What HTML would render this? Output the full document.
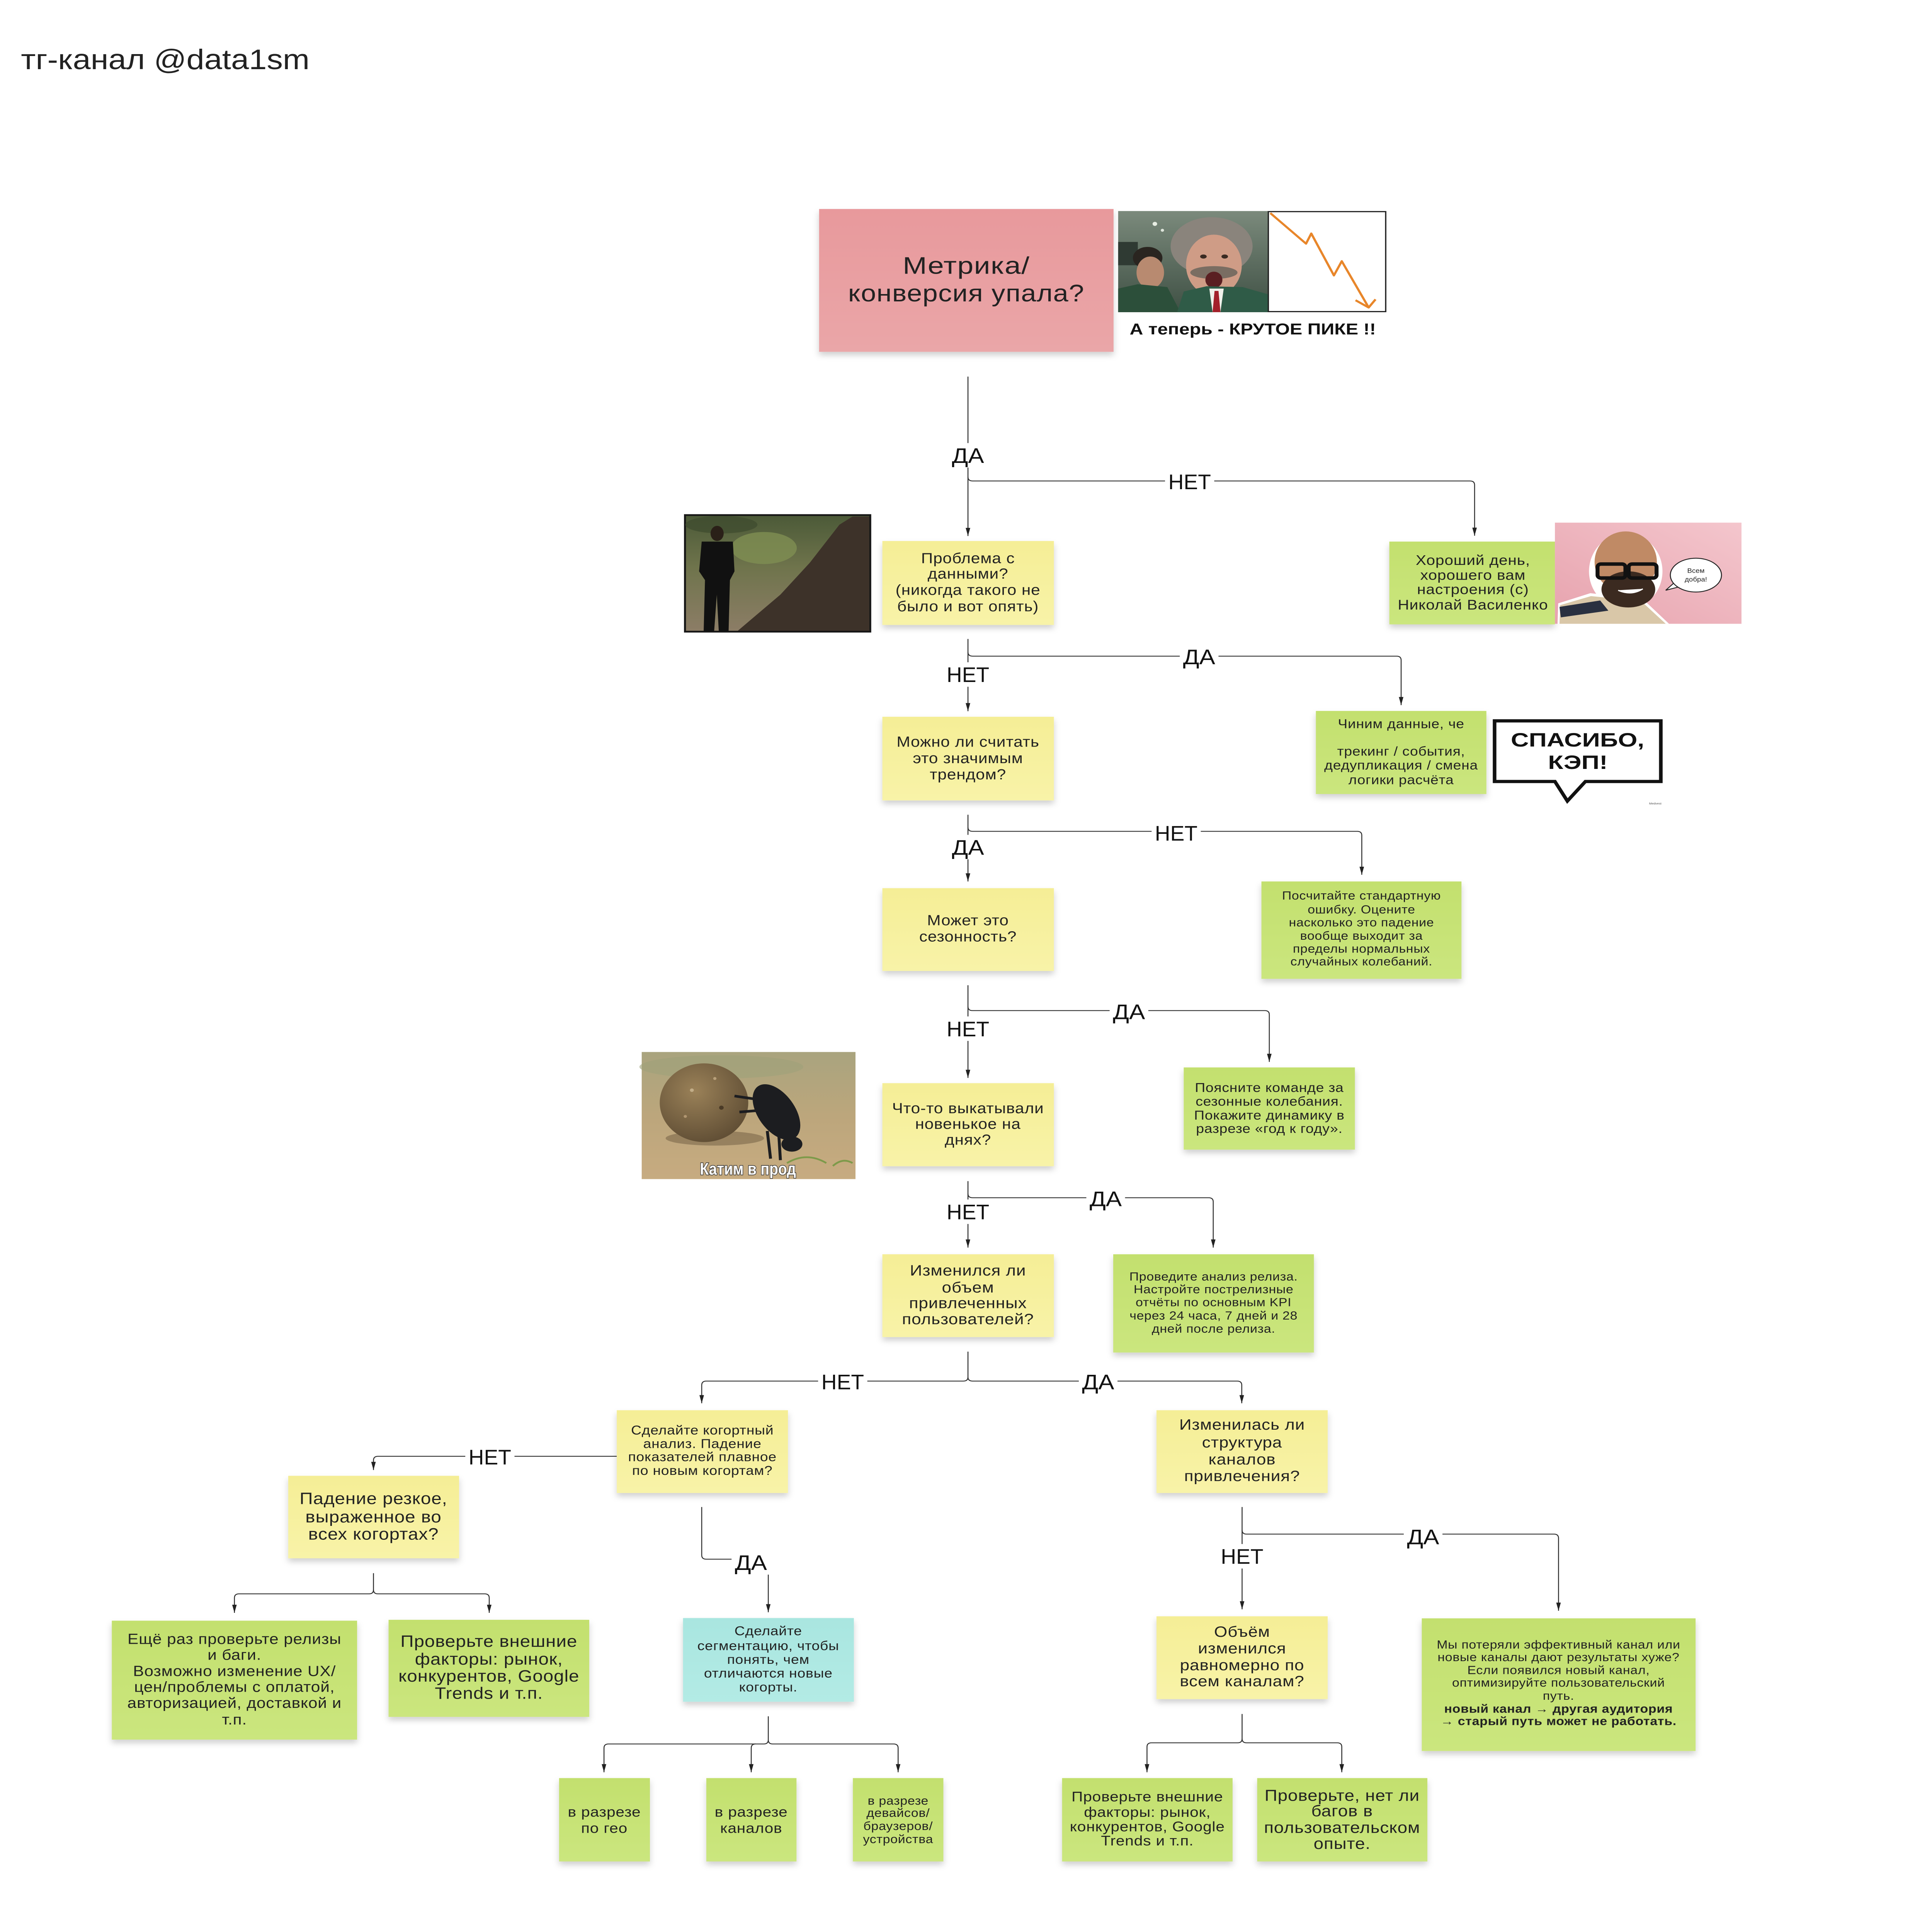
<!DOCTYPE html>
<html><head><meta charset="utf-8"><style>
html,body{margin:0;padding:0;background:#fff;width:100%;height:100%;overflow:hidden;}
svg{position:absolute;left:0;top:0;display:block;width:100vw;height:100vh;}
text{font-family:"Liberation Sans","DejaVu Sans",sans-serif;}
.n{fill:#222;text-anchor:middle;letter-spacing:0.02em;}
.lb{fill:#111;text-anchor:middle;font-size:72px;}
.ln{fill:none;stroke:#333;stroke-width:3;}
</style></head><body>
<svg viewBox="0 0 5892 6628" preserveAspectRatio="none" xmlns="http://www.w3.org/2000/svg">
<defs>
<filter id="sh" x="-10%" y="-10%" width="120%" height="135%"><feDropShadow dx="0" dy="12" stdDeviation="10" flood-color="#000" flood-opacity="0.18"/></filter>
<marker id="ar" viewBox="0 0 28 14" refX="28" refY="7" markerWidth="28" markerHeight="14" markerUnits="userSpaceOnUse" orient="auto"><path d="M0,0 L28,7 L0,14 z" fill="#222"/></marker>
<linearGradient id="gy" x1="0" y1="0" x2="0" y2="1"><stop offset="0" stop-color="#f5ee96"/><stop offset="1" stop-color="#f8f3a8"/></linearGradient>
<linearGradient id="gg" x1="0" y1="0" x2="0" y2="1"><stop offset="0" stop-color="#c3e06e"/><stop offset="1" stop-color="#cbe67e"/></linearGradient>
<linearGradient id="gt" x1="0" y1="0" x2="0" y2="1"><stop offset="0" stop-color="#a9e6e0"/><stop offset="1" stop-color="#b3ebe5"/></linearGradient>
<linearGradient id="gp" x1="0" y1="0" x2="0" y2="1"><stop offset="0" stop-color="#e8999c"/><stop offset="1" stop-color="#eaa6a8"/></linearGradient>
<linearGradient id="gpk" x1="1" y1="0" x2="0" y2="1"><stop offset="0" stop-color="#f4c6cd"/><stop offset="1" stop-color="#e7a3ae"/></linearGradient>
<linearGradient id="gcab" x1="0" y1="0" x2="0" y2="1"><stop offset="0" stop-color="#7b8a7c"/><stop offset="1" stop-color="#3f5044"/></linearGradient>
<linearGradient id="gman" x1="0" y1="0" x2="0" y2="1"><stop offset="0" stop-color="#4c5a38"/><stop offset="0.45" stop-color="#6f744c"/><stop offset="1" stop-color="#8c7d66"/></linearGradient>
<linearGradient id="gbt" x1="0" y1="0" x2="0" y2="1"><stop offset="0" stop-color="#a9a47e"/><stop offset="0.5" stop-color="#bca67c"/><stop offset="1" stop-color="#c7ab80"/></linearGradient>
<radialGradient id="gball" cx="0.4" cy="0.35" r="0.7"><stop offset="0" stop-color="#9a8158"/><stop offset="1" stop-color="#5f4d34"/></radialGradient>
</defs>

<rect x="0" y="0" width="5892" height="6628" fill="#fff"/>

<!-- Title -->
<text x="64" y="237" font-size="97" fill="#222" textLength="880" lengthAdjust="spacingAndGlyphs">тг-канал @data1sm</text>

<!-- Pink root -->
<rect x="2498" y="717" width="898" height="490" fill="url(#gp)" filter="url(#sh)"/>
<text class="n" x="2947" y="939" font-size="82" textLength="388" lengthAdjust="spacingAndGlyphs">Метрика/</text>
<text class="n" x="2947" y="1034" font-size="82" textLength="721" lengthAdjust="spacingAndGlyphs">конверсия упала?</text>

<!-- Meme 1 -->
<rect x="3410" y="724" width="458" height="347" fill="url(#gcab)"/>
<circle cx="3522" cy="768" r="7" fill="#e8eee4"/><circle cx="3545" cy="790" r="5" fill="#dfe6dc"/>
<rect x="3410" y="830" width="60" height="80" fill="#2f3a33"/>
<ellipse cx="3500" cy="885" rx="45" ry="38" fill="#2a2520"/>
<ellipse cx="3508" cy="935" rx="42" ry="55" fill="#b88a70"/>
<polygon points="3410,1071 3410,990 3470,975 3560,985 3600,1071" fill="#2c4f3a"/>
<ellipse cx="3695" cy="845" rx="125" ry="100" fill="#8a847c"/>
<ellipse cx="3702" cy="910" rx="85" ry="105" fill="#cf9c86"/>
<ellipse cx="3670" cy="880" rx="10" ry="7" fill="#3a2a22"/><ellipse cx="3735" cy="880" rx="10" ry="7" fill="#3a2a22"/>
<ellipse cx="3702" cy="935" rx="72" ry="22" fill="#7a6d62"/>
<ellipse cx="3702" cy="960" rx="26" ry="28" fill="#5a1f22"/>
<polygon points="3590,1071 3610,1000 3680,982 3790,985 3868,1010 3868,1071" fill="#2f5b47"/>
<polygon points="3688,990 3732,990 3722,1071 3698,1071" fill="#f0f0ea"/>
<polygon points="3704,998 3716,998 3722,1071 3698,1071" fill="#a3202a"/>
<rect x="3868" y="726" width="358" height="343" fill="#fff" stroke="#222" stroke-width="4"/>
<polyline points="3874,731 3983,836 3999,801 4068,945 4092,896 4173,1053" fill="none" stroke="#e8862a" stroke-width="7" stroke-linejoin="round"/>
<polyline points="4134,1030 4174,1055 4195,1027" fill="none" stroke="#e8862a" stroke-width="7" stroke-linejoin="round"/>
<text x="3445" y="1147" font-size="54" font-weight="bold" fill="#111" textLength="751" lengthAdjust="spacingAndGlyphs">А теперь - КРУТОЕ ПИКЕ !!</text>

<!-- Connectors -->
<path class="ln" d="M2952,1292 L2952,1839" marker-end="url(#ar)"/>
<path class="ln" d="M2952,1636 Q2952,1650 2966,1650 L4483,1650 Q4497,1650 4497,1664 L4497,1838" marker-end="url(#ar)"/>
<path class="ln" d="M2952,2192 L2952,2440" marker-end="url(#ar)"/>
<path class="ln" d="M2952,2237 Q2952,2251 2966,2251 L4259,2251 Q4273,2251 4273,2265 L4273,2419" marker-end="url(#ar)"/>
<path class="ln" d="M2952,2795 L2952,3024" marker-end="url(#ar)"/>
<path class="ln" d="M2952,2838 Q2952,2852 2966,2852 L4139,2852 Q4153,2852 4153,2866 L4153,3001" marker-end="url(#ar)"/>
<path class="ln" d="M2952,3380 L2952,3698" marker-end="url(#ar)"/>
<path class="ln" d="M2952,3453 Q2952,3467 2966,3467 L3857,3467 Q3871,3467 3871,3481 L3871,3643" marker-end="url(#ar)"/>
<path class="ln" d="M2952,4052 L2952,4280" marker-end="url(#ar)"/>
<path class="ln" d="M2952,4095 Q2952,4109 2966,4109 L3686,4109 Q3700,4109 3700,4123 L3700,4280" marker-end="url(#ar)"/>
<path class="ln" d="M2952,4637 L2952,4724 Q2952,4738 2938,4738 L2154,4738 Q2140,4738 2140,4752 L2140,4814" marker-end="url(#ar)"/>
<path class="ln" d="M2952,4724 Q2952,4738 2966,4738 L3773,4738 Q3787,4738 3787,4752 L3787,4814" marker-end="url(#ar)"/>
<path class="ln" d="M1881,4996 L1153,4996 Q1139,4996 1139,5010 L1139,5043" marker-end="url(#ar)"/>
<path class="ln" d="M2140,5170 L2140,5335 Q2140,5349 2154,5349 L2329,5349 Q2343,5349 2343,5363 L2343,5531" marker-end="url(#ar)"/>
<path class="ln" d="M1139,5397 L1139,5454 Q1139,5468 1125,5468 L729,5468 Q715,5468 715,5482 L715,5533" marker-end="url(#ar)"/>
<path class="ln" d="M1139,5454 Q1139,5468 1153,5468 L1478,5468 Q1492,5468 1492,5482 L1492,5533" marker-end="url(#ar)"/>
<path class="ln" d="M2343,5888 L2343,5969 Q2343,5983 2329,5983 L1856,5983 Q1842,5983 1842,5997 L1842,6080" marker-end="url(#ar)"/>
<path class="ln" d="M2343,5969 Q2343,5983 2357,5983 L2725,5983 Q2739,5983 2739,5997 L2739,6080" marker-end="url(#ar)"/>
<path class="ln" d="M2305,5983 Q2291,5983 2291,5997 L2291,6080" marker-end="url(#ar)"/>
<path class="ln" d="M3788,5170 L3788,5521" marker-end="url(#ar)"/>
<path class="ln" d="M3788,5249 Q3788,5263 3802,5263 L4739,5263 Q4753,5263 4753,5277 L4753,5526" marker-end="url(#ar)"/>
<path class="ln" d="M3788,5880 L3788,5965 Q3788,5979 3774,5979 L3512,5979 Q3498,5979 3498,5993 L3498,6080" marker-end="url(#ar)"/>
<path class="ln" d="M3788,5965 Q3788,5979 3802,5979 L4078,5979 Q4092,5979 4092,5993 L4092,6080" marker-end="url(#ar)"/>

<!-- Labels -->
<g>
<rect x="2893" y="1520" width="118" height="84" fill="#fff"/><text class="lb" x="2952" y="1588" textLength="98" lengthAdjust="spacingAndGlyphs">ДА</text>
<rect x="3553" y="1610" width="150" height="84" fill="#fff"/><text class="lb" x="3628" y="1678" textLength="130" lengthAdjust="spacingAndGlyphs">НЕТ</text>
<rect x="2877" y="2272" width="150" height="84" fill="#fff"/><text class="lb" x="2952" y="2340" textLength="130" lengthAdjust="spacingAndGlyphs">НЕТ</text>
<rect x="3598" y="2211" width="118" height="84" fill="#fff"/><text class="lb" x="3657" y="2279" textLength="98" lengthAdjust="spacingAndGlyphs">ДА</text>
<rect x="2893" y="2864" width="118" height="84" fill="#fff"/><text class="lb" x="2952" y="2932" textLength="98" lengthAdjust="spacingAndGlyphs">ДА</text>
<rect x="3512" y="2816" width="150" height="84" fill="#fff"/><text class="lb" x="3587" y="2884" textLength="130" lengthAdjust="spacingAndGlyphs">НЕТ</text>
<rect x="2877" y="3487" width="150" height="84" fill="#fff"/><text class="lb" x="2952" y="3555" textLength="130" lengthAdjust="spacingAndGlyphs">НЕТ</text>
<rect x="3384" y="3428" width="118" height="84" fill="#fff"/><text class="lb" x="3443" y="3496" textLength="98" lengthAdjust="spacingAndGlyphs">ДА</text>
<rect x="2877" y="4115" width="150" height="84" fill="#fff"/><text class="lb" x="2952" y="4183" textLength="130" lengthAdjust="spacingAndGlyphs">НЕТ</text>
<rect x="3313" y="4070" width="118" height="84" fill="#fff"/><text class="lb" x="3372" y="4138" textLength="98" lengthAdjust="spacingAndGlyphs">ДА</text>
<rect x="2495" y="4698" width="150" height="84" fill="#fff"/><text class="lb" x="2570" y="4766" textLength="130" lengthAdjust="spacingAndGlyphs">НЕТ</text>
<rect x="3290" y="4698" width="118" height="84" fill="#fff"/><text class="lb" x="3349" y="4766" textLength="98" lengthAdjust="spacingAndGlyphs">ДА</text>
<rect x="1419" y="4956" width="150" height="84" fill="#fff"/><text class="lb" x="1494" y="5024" textLength="130" lengthAdjust="spacingAndGlyphs">НЕТ</text>
<rect x="2231" y="5318" width="118" height="84" fill="#fff"/><text class="lb" x="2290" y="5386" textLength="98" lengthAdjust="spacingAndGlyphs">ДА</text>
<rect x="3713" y="5297" width="150" height="84" fill="#fff"/><text class="lb" x="3788" y="5365" textLength="130" lengthAdjust="spacingAndGlyphs">НЕТ</text>
<rect x="4281" y="5230" width="118" height="84" fill="#fff"/><text class="lb" x="4340" y="5298" textLength="98" lengthAdjust="spacingAndGlyphs">ДА</text>
</g>

<!-- Man image -->
<rect x="2086" y="1764" width="571" height="406" fill="#161616"/>
<rect x="2092" y="1770" width="559" height="394" fill="url(#gman)"/>
<ellipse cx="2330" cy="1880" rx="100" ry="55" fill="#7f8e52" opacity="0.8"/>
<ellipse cx="2200" cy="1800" rx="110" ry="30" fill="#3d4a2e" opacity="0.7"/>
<polygon points="2250,2164 2380,2040 2470,1930 2560,1800 2600,1772 2651,1772 2651,2164" fill="#3d3229"/>
<ellipse cx="2187" cy="1830" rx="20" ry="26" fill="#2a2018"/>
<polygon points="2140,1858 2235,1858 2240,1960 2226,1990 2222,2164 2192,2164 2186,2040 2178,2164 2146,2164 2150,1990 2132,1960" fill="#111"/>

<!-- Проблема -->
<rect x="2691" y="1856" width="523" height="288" fill="url(#gy)" filter="url(#sh)"/>
<text class="n" font-size="50"><tspan x="2952" y="1932">Проблема с</tspan><tspan x="2952" y="1985">данными?</tspan><tspan x="2952" y="2041">(никогда такого не</tspan><tspan x="2952" y="2097">было и вот опять)</tspan></text>

<!-- Хороший -->
<rect x="4237" y="1858" width="505" height="284" fill="url(#gg)" filter="url(#sh)"/>
<text class="n" font-size="48"><tspan x="4492" y="1938">Хороший день,</tspan><tspan x="4492" y="1989">хорошего вам</tspan><tspan x="4492" y="2038">настроения (с)</tspan><tspan x="4492" y="2091">Николай Василенко</tspan></text>

<!-- Bald image -->
<rect x="4742" y="1793" width="569" height="347" fill="url(#gpk)"/>
<ellipse cx="4958" cy="1960" rx="112" ry="130" fill="#fff"/>
<polygon points="4750,2140 4752,2070 4850,2035 5010,2055 5090,2140" fill="#fff"/>
<polygon points="4756,2140 4758,2076 4852,2045 5005,2062 5080,2140" fill="#d9c7a8"/>
<polygon points="4756,2082 4880,2060 4905,2095 4760,2118" fill="#2a3040"/>
<ellipse cx="4958" cy="1928" rx="95" ry="105" fill="#c08a65"/>
<ellipse cx="4966" cy="2022" rx="82" ry="62" fill="#3b2a20"/>
<rect x="4872" y="1935" width="85" height="48" rx="10" fill="none" stroke="#111" stroke-width="12"/>
<rect x="4967" y="1935" width="85" height="48" rx="10" fill="none" stroke="#111" stroke-width="12"/>
<path d="M4935,2025 Q4975,2045 5010,2020" fill="#fff" stroke="#fff" stroke-width="4"/>
<path d="M5110,1995 L5080,2025 L5125,2012 Z" fill="#fff" stroke="#222" stroke-width="3"/>
<ellipse cx="5172" cy="1973" rx="78" ry="58" fill="#fff" stroke="#222" stroke-width="3"/>
<text x="5172" y="1965" font-size="22" fill="#222" text-anchor="middle">Всем</text>
<text x="5172" y="1995" font-size="22" fill="#222" text-anchor="middle">добра!</text>

<!-- Чиним -->
<rect x="4013" y="2439" width="520" height="285" fill="url(#gg)" filter="url(#sh)"/>
<text class="n" font-size="44"><tspan x="4273" y="2498">Чиним данные, че</tspan><tspan x="4273" y="2592">трекинг / события,</tspan><tspan x="4273" y="2640">дедупликация / смена</tspan><tspan x="4273" y="2690">логики расчёта</tspan></text>

<!-- СПАСИБО КЭП -->
<path d="M4558,2473 H5065 V2681 H4835 L4780,2748 L4742,2681 H4558 Z" fill="#fff" stroke="#111" stroke-width="11"/>
<text x="4811" y="2561" font-size="66" font-weight="bold" fill="#111" text-anchor="middle" textLength="407" lengthAdjust="spacingAndGlyphs">СПАСИБО,</text>
<text x="4812" y="2638" font-size="66" font-weight="bold" fill="#111" text-anchor="middle" textLength="182" lengthAdjust="spacingAndGlyphs">КЭП!</text>
<text x="5048" y="2760" font-size="10" fill="#555" text-anchor="middle">Medvest</text>

<!-- Можно -->
<rect x="2691" y="2459" width="523" height="287" fill="url(#gy)" filter="url(#sh)"/>
<text class="n" font-size="50"><tspan x="2952" y="2562">Можно ли считать</tspan><tspan x="2952" y="2618">это значимым</tspan><tspan x="2952" y="2674">трендом?</tspan></text>

<!-- Посчитайте -->
<rect x="3847" y="3024" width="610" height="334" fill="url(#gg)" filter="url(#sh)"/>
<text class="n" font-size="40"><tspan x="4152" y="3086">Посчитайте стандартную</tspan><tspan x="4152" y="3134">ошибку. Оцените</tspan><tspan x="4152" y="3178">насколько это падение</tspan><tspan x="4152" y="3224">вообще выходит за</tspan><tspan x="4152" y="3268">пределы нормальных</tspan><tspan x="4152" y="3312">случайных колебаний.</tspan></text>

<!-- Может -->
<rect x="2691" y="3047" width="523" height="284" fill="url(#gy)" filter="url(#sh)"/>
<text class="n" font-size="50"><tspan x="2952" y="3174">Может это</tspan><tspan x="2952" y="3230">сезонность?</tspan></text>

<!-- Beetle image -->
<rect x="1957" y="3609" width="652" height="436" fill="url(#gbt)"/>
<ellipse cx="2200" cy="3660" rx="250" ry="40" fill="#9ea27a" opacity="0.6"/>
<ellipse cx="2180" cy="3905" rx="150" ry="25" fill="#6e5a40" opacity="0.5"/>
<circle cx="2147" cy="3783" r="135" fill="url(#gball)"/>
<circle cx="2110" cy="3740" r="6" fill="#c2ad88"/><circle cx="2180" cy="3700" r="5" fill="#b8a07a"/><circle cx="2200" cy="3800" r="7" fill="#4a3a26"/><circle cx="2090" cy="3830" r="5" fill="#b09670"/>
<ellipse cx="2368" cy="3815" rx="58" ry="105" fill="#1c1d20" transform="rotate(-30 2368 3815)"/>
<ellipse cx="2415" cy="3925" rx="32" ry="26" fill="#1c1d20"/>
<path d="M2300,3770 L2240,3760 M2310,3810 L2255,3815 M2340,3880 L2350,3975 M2375,3890 L2380,3980" stroke="#1c1d20" stroke-width="9" fill="none"/>
<path d="M2400,3990 Q2460,3950 2520,3990 M2540,4000 Q2570,3970 2600,3990" stroke="#7d9a4a" stroke-width="6" fill="none"/>
<text x="2281" y="4030" font-size="58" font-weight="bold" fill="#fff" stroke="#333" stroke-width="4" paint-order="stroke" text-anchor="middle" textLength="293" lengthAdjust="spacingAndGlyphs">Катим в прод</text>

<!-- Что-то -->
<rect x="2691" y="3716" width="523" height="285" fill="url(#gy)" filter="url(#sh)"/>
<text class="n" font-size="50"><tspan x="2952" y="3819">Что-то выкатывали</tspan><tspan x="2952" y="3873">новенькое на</tspan><tspan x="2952" y="3927">днях?</tspan></text>

<!-- Поясните -->
<rect x="3610" y="3662" width="522" height="282" fill="url(#gg)" filter="url(#sh)"/>
<text class="n" font-size="44"><tspan x="3871" y="3746">Поясните команде за</tspan><tspan x="3871" y="3793">сезонные колебания.</tspan><tspan x="3871" y="3841">Покажите динамику в</tspan><tspan x="3871" y="3887">разрезе «год к году».</tspan></text>

<!-- Изменился -->
<rect x="2691" y="4303" width="523" height="284" fill="url(#gy)" filter="url(#sh)"/>
<text class="n" font-size="52"><tspan x="2952" y="4376">Изменился ли</tspan><tspan x="2952" y="4434">объем</tspan><tspan x="2952" y="4488">привлеченных</tspan><tspan x="2952" y="4543">пользователей?</tspan></text>

<!-- Проведите -->
<rect x="3395" y="4303" width="612" height="337" fill="url(#gg)" filter="url(#sh)"/>
<text class="n" font-size="40"><tspan x="3701" y="4393">Проведите анализ релиза.</tspan><tspan x="3701" y="4437">Настройте пострелизные</tspan><tspan x="3701" y="4481">отчёты по основным KPI</tspan><tspan x="3701" y="4527">через 24 часа, 7 дней и 28</tspan><tspan x="3701" y="4572">дней после релиза.</tspan></text>

<!-- Сделайте когортный -->
<rect x="1881" y="4838" width="522" height="284" fill="url(#gy)" filter="url(#sh)"/>
<text class="n" font-size="44"><tspan x="2142" y="4921">Сделайте когортный</tspan><tspan x="2142" y="4968">анализ. Падение</tspan><tspan x="2142" y="5013">показателей плавное</tspan><tspan x="2142" y="5060">по новым когортам?</tspan></text>

<!-- Изменилась -->
<rect x="3527" y="4838" width="522" height="284" fill="url(#gy)" filter="url(#sh)"/>
<text class="n" font-size="52"><tspan x="3788" y="4905">Изменилась ли</tspan><tspan x="3788" y="4966">структура</tspan><tspan x="3788" y="5024">каналов</tspan><tspan x="3788" y="5081">привлечения?</tspan></text>

<!-- Падение -->
<rect x="879" y="5063" width="521" height="283" fill="url(#gy)" filter="url(#sh)"/>
<text class="n" font-size="56"><tspan x="1139" y="5160">Падение резкое,</tspan><tspan x="1139" y="5223">выраженное во</tspan><tspan x="1139" y="5282">всех когортах?</tspan></text>

<!-- Ещё раз -->
<rect x="341" y="5560" width="748" height="408" fill="url(#gg)" filter="url(#sh)"/>
<text class="n" font-size="50"><tspan x="715" y="5640">Ещё раз проверьте релизы</tspan><tspan x="715" y="5694">и баги.</tspan><tspan x="715" y="5750">Возможно изменение UX/</tspan><tspan x="715" y="5804">цен/проблемы с оплатой,</tspan><tspan x="715" y="5859">авторизацией, доставкой и</tspan><tspan x="715" y="5916">т.п.</tspan></text>

<!-- Проверьте внешние L -->
<rect x="1185" y="5557" width="612" height="333" fill="url(#gg)" filter="url(#sh)"/>
<text class="n" font-size="56"><tspan x="1491" y="5650">Проверьте внешние</tspan><tspan x="1491" y="5711">факторы: рынок,</tspan><tspan x="1491" y="5769">конкурентов, Google</tspan><tspan x="1491" y="5828">Trends и т.п.</tspan></text>

<!-- Сегментация -->
<rect x="2083" y="5551" width="521" height="287" fill="url(#gt)" filter="url(#sh)"/>
<text class="n" font-size="44"><tspan x="2343" y="5610">Сделайте</tspan><tspan x="2343" y="5661">сегментацию, чтобы</tspan><tspan x="2343" y="5708">понять, чем</tspan><tspan x="2343" y="5755">отличаются новые</tspan><tspan x="2343" y="5803">когорты.</tspan></text>

<!-- Объём -->
<rect x="3527" y="5545" width="522" height="284" fill="url(#gy)" filter="url(#sh)"/>
<text class="n" font-size="52"><tspan x="3788" y="5615">Объём</tspan><tspan x="3788" y="5672">изменился</tspan><tspan x="3788" y="5730">равномерно по</tspan><tspan x="3788" y="5785">всем каналам?</tspan></text>

<!-- Мы потеряли -->
<rect x="4336" y="5552" width="835" height="455" fill="url(#gg)" filter="url(#sh)"/>
<text class="n" font-size="40"><tspan x="4753" y="5656">Мы потеряли эффективный канал или</tspan><tspan x="4753" y="5699">новые каналы дают результаты хуже?</tspan><tspan x="4753" y="5743">Если появился новый канал,</tspan><tspan x="4753" y="5786">оптимизируйте пользовательский</tspan><tspan x="4753" y="5831">путь.</tspan></text>
<text class="n" font-size="40" font-weight="bold"><tspan x="4753" y="5876">новый канал → другая аудитория</tspan><tspan x="4753" y="5918">→ старый путь может не работать.</tspan></text>

<!-- Bottom three -->
<rect x="1705" y="6100" width="277" height="286" fill="url(#gg)" filter="url(#sh)"/>
<text class="n" font-size="48"><tspan x="1843" y="6232">в разрезе</tspan><tspan x="1843" y="6288">по гео</tspan></text>
<rect x="2154" y="6100" width="275" height="286" fill="url(#gg)" filter="url(#sh)"/>
<text class="n" font-size="48"><tspan x="2291" y="6232">в разрезе</tspan><tspan x="2291" y="6288">каналов</tspan></text>
<rect x="2601" y="6100" width="276" height="286" fill="url(#gg)" filter="url(#sh)"/>
<text class="n" font-size="40"><tspan x="2739" y="6191">в разрезе</tspan><tspan x="2739" y="6233">девайсов/</tspan><tspan x="2739" y="6278">браузеров/</tspan><tspan x="2739" y="6323">устройства</tspan></text>

<!-- Bottom right -->
<rect x="3239" y="6100" width="520" height="286" fill="url(#gg)" filter="url(#sh)"/>
<text class="n" font-size="48"><tspan x="3499" y="6180">Проверьте внешние</tspan><tspan x="3499" y="6233">факторы: рынок,</tspan><tspan x="3499" y="6283">конкурентов, Google</tspan><tspan x="3499" y="6331">Trends и т.п.</tspan></text>
<rect x="3834" y="6100" width="519" height="286" fill="url(#gg)" filter="url(#sh)"/>
<text class="n" font-size="54"><tspan x="4093" y="6178">Проверьте, нет ли</tspan><tspan x="4093" y="6231">багов в</tspan><tspan x="4093" y="6288">пользовательском</tspan><tspan x="4093" y="6343">опыте.</tspan></text>
</svg>
</body></html>
